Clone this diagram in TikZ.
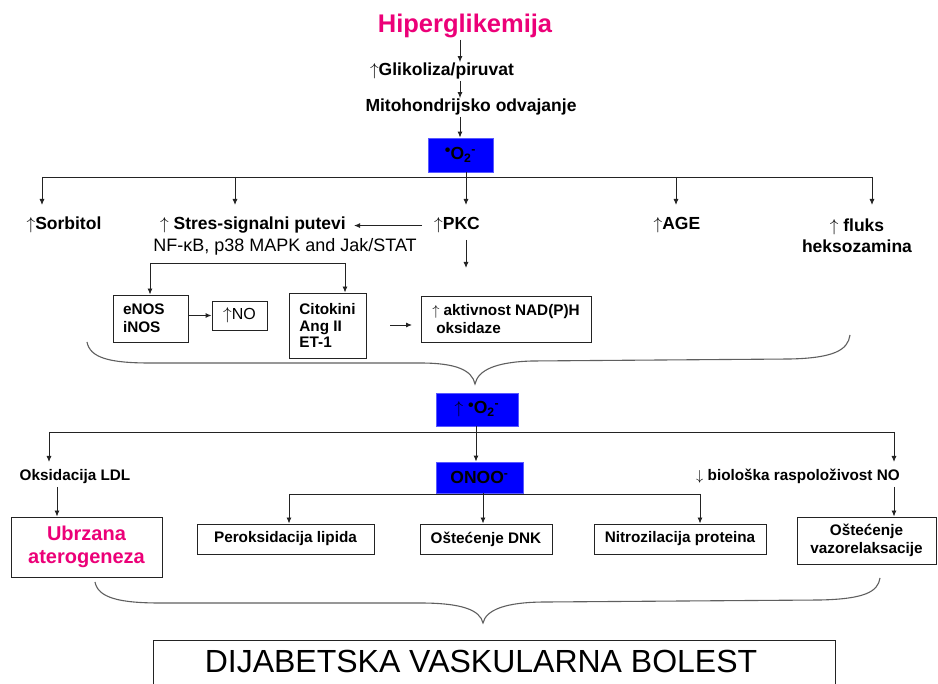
\documentclass[tikz,border=0pt]{standalone}
\usepackage{fontspec}
\setmainfont{Liberation Sans}
\usetikzlibrary{arrows.meta}
\definecolor{hot}{RGB}{236,0,120}
\definecolor{oxblue}{RGB}{0,0,255}
\definecolor{lc}{RGB}{35,35,35}
\definecolor{bc}{RGB}{95,95,95}
\newcommand{\supox}{\raisebox{0.22em}{\fontsize{16}{16}\selectfont•}O\textsubscript{2}\textsuperscript{-}}
\newcommand{\myup}{$\uparrow$}
\newcommand{\mydown}{$\downarrow$}
\begin{document}
\begin{tikzpicture}[x=1pt,y=-1pt,
  arr/.style={draw=lc,line width=0.9pt,-{Latex[length=6pt,width=5pt]}},
  plain/.style={draw=lc,line width=0.9pt},
  big/.style={inner sep=1pt,align=center,font=\fontsize{17.5}{20.5}\selectfont\bfseries},
  reg/.style={inner sep=1pt,font=\fontsize{18}{20}\selectfont},
  sb/.style={inner sep=1pt,font=\fontsize{15.3}{18}\selectfont\bfseries},
  bx/.style={draw=lc,line width=0.9pt,rectangle,inner sep=0pt,fill=white},
  blu/.style={fill=oxblue,draw=oxblue!65!white,line width=0.8pt,inner sep=0pt,font=\fontsize{17.5}{20}\selectfont\bfseries},
  brc/.style={draw=bc,line width=1.1pt}
]
\useasboundingbox (0,0) rectangle (938,684);
\clip (0,0) rectangle (938,684);

% ---- top chain
\node[anchor=base,inner sep=1pt,font=\fontsize{25.5}{28}\selectfont\bfseries,text=hot] (hyper) at (465,33) {Hiperglikemija};
\node[big,anchor=base] (glik) at (442,76) {\myup Glikoliza/piruvat};
\node[big,anchor=base] (mito) at (471,112) {Mitohondrijsko odvajanje};
\node[blu,minimum width=65pt,minimum height=34pt] (o2a) at (460.5,155) {\supox};
\coordinate (c460) at (460,0);
\draw[arr] (hyper.south -| c460) -- (glik.north -| c460);
\draw[arr] (glik.south -| c460) -- (mito.north -| c460);
\draw[arr] (mito.south -| c460) -- (o2a.north -| c460);

% ---- first bus
\coordinate (B1) at (466,177);
\coordinate (L1) at (42,177);
\coordinate (S1) at (235,177);
\coordinate (A1) at (676,177);
\coordinate (R1) at (872,177);
\coordinate (t205) at (0,205);
\draw[plain] (o2a.south -| B1) -- (B1);
\draw[plain] (L1) -- (R1);
\draw[arr] (L1) -- (L1 |- t205);
\draw[arr] (S1) -- (S1 |- t205);
\draw[arr] (B1) -- (B1 |- t205);
\draw[arr] (A1) -- (A1 |- t205);
\draw[arr] (R1) -- (R1 |- t205);

\node[big,anchor=base] (sorb) at (64,230) {\myup Sorbitol};
\node[big,anchor=base] (stres) at (253,230) {\myup\ Stres-signalni putevi};
\node[reg,anchor=base] (nfkb) at (285,252) {NF-κB, p38 MAPK and Jak/STAT};
\node[big,anchor=base] (pkc) at (457,230) {\myup PKC};
\node[big,anchor=base] (age) at (677,230) {\myup AGE};
\node[big] (fluks) at (857,235.5) {\myup\ fluks\\heksozamina};

\draw[arr,shorten <=11pt,shorten >=7pt] (pkc.west) -- (stres.east |- pkc.west);
\coordinate (pk1) at (466,240);
\coordinate (pk2) at (466,268);
\draw[arr] (pk1) -- (pk2);

% ---- boxes under stress pathways
\node[bx,minimum width=75pt,minimum height=47pt,align=left,text width=55pt,sb] (enos) at (150.5,318.5) {eNOS\\iNOS};
\node[bx,minimum width=55pt,minimum height=29pt,font=\fontsize{16}{18}\selectfont] (no) at (239.5,315.5) {\myup NO};
\node[bx,minimum width=77pt,minimum height=65pt,align=left,inner sep=0pt,font=\fontsize{15.3}{16.5}\selectfont\bfseries] (cito) at (327.5,325.5) {Citokini\\Ang II\\ET-1};
\node[bx,minimum width=170pt,minimum height=46pt,align=left,sb] (nad) at (506,319) {\myup\ aktivnost NAD(P)H\\\hspace{4pt}oksidaze};

\coordinate (sbL) at (150,263);
\coordinate (sbR) at (345,263);
\draw[plain] (sbL) -- (sbR);
\draw[arr] (sbL) -- (enos.north -| sbL);
\draw[arr] (sbR) -- (cito.north -| sbR);
\draw[arr] (enos.east |- no.west) -- (no.west);
\coordinate (ca) at (390,325);
\coordinate (cb) at (412,325);
\draw[arr] (ca) -- (cb);

% ---- brace 1
\draw[brc] (87,342) .. controls (90,358) and (110,363) .. (150,363) -- (420,363)
  .. controls (456,363) and (472,370) .. (475,384)
  .. controls (478,370) and (496,362) .. (532,361) -- (790,359)
  .. controls (834,358) and (848,350) .. (850,335);

% ---- second superoxide
\node[blu,minimum width=82pt,minimum height=33pt] (o2b) at (477,409.5) {\myup\ \supox};
\coordinate (L2) at (49,432);
\coordinate (M2) at (476,432);
\coordinate (R2) at (894,432);
\coordinate (t462) at (0,462);
\draw[plain] (o2b.south -| M2) -- (M2);
\draw[plain] (L2) -- (R2);

\node[blu,minimum width=87pt,minimum height=31pt] (onoo) at (479.5,477.5) {ONOO\textsuperscript{-}};
\node[sb,anchor=base] (oks) at (75,481) {Oksidacija LDL};
\node[sb,anchor=base] (bio) at (798,481) {\mydown\ biološka raspoloživost NO};

\draw[arr] (L2) -- (L2 |- t462);
\draw[arr] (M2) -- (onoo.north -| M2);
\draw[arr] (R2) -- (R2 |- t462);

\node[bx,minimum width=151pt,minimum height=60pt,align=center,text=hot,font=\fontsize{20}{23}\selectfont\bfseries] (ubr) at (86.5,547) {Ubrzana\\aterogeneza};
\node[bx,minimum width=177pt,minimum height=30pt,sb] (per) at (285.5,539) {Peroksidacija lipida};
\node[bx,minimum width=132pt,minimum height=30pt,sb] (dnk) at (486,539) {Oštećenje DNK};
\node[bx,minimum width=172pt,minimum height=30pt,sb] (nit) at (680,539) {Nitrozilacija proteina};
\node[bx,minimum width=139pt,minimum height=47pt,align=center,sb] (vaz) at (866.5,540.5) {Oštećenje\\vazorelaksacije};

\coordinate (c57) at (57,487);
\coordinate (c894) at (894,487);
\draw[arr] (c57) -- (c57 |- ubr.north);
\draw[arr] (c894) -- (c894 |- vaz.north);

\coordinate (L3) at (289,494);
\coordinate (M3) at (483,494);
\coordinate (R3) at (700,494);
\draw[plain] (onoo.south -| M3) -- (M3);
\draw[plain] (L3) -- (R3);
\draw[arr] (L3) -- (per.north -| L3);
\draw[arr] (M3) -- (dnk.north -| M3);
\draw[arr] (R3) -- (nit.north -| R3);

% ---- brace 2
\draw[brc] (95,582) .. controls (98,598) and (120,603) .. (160,603) -- (420,603)
  .. controls (462,603) and (480,610) .. (483,623)
  .. controls (486,610) and (505,602) .. (546,602) -- (820,600)
  .. controls (864,599) and (878,592) .. (880,578);

% ---- final box
\node[bx,fill=none,minimum width=682pt,minimum height=80pt,anchor=north west] (dvbbox) at (153,640) {};
\node[anchor=base,inner sep=1pt,font=\fontsize{32}{36}\selectfont] (dvb) at (481,672) {DIJABETSKA VASKULARNA BOLEST};
\end{tikzpicture}
\end{document}
